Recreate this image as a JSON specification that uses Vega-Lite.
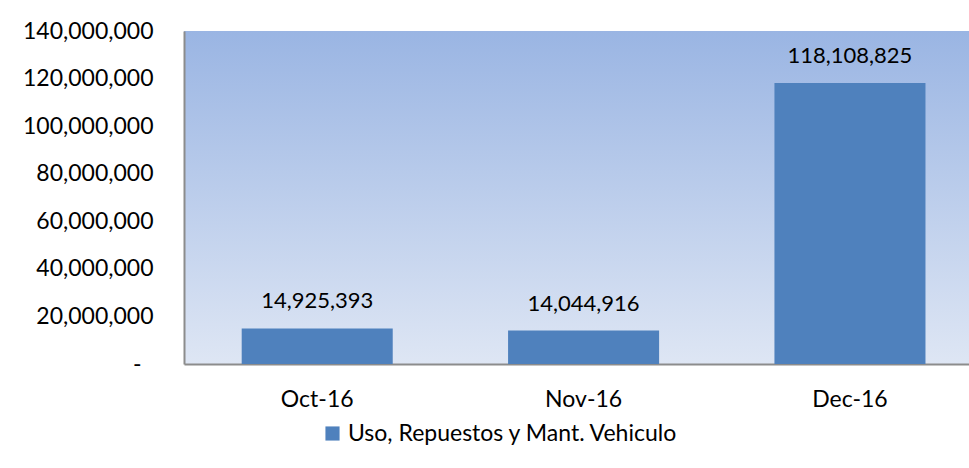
{
  "$schema": "https://vega.github.io/schema/vega-lite/v6.json",
  "width": 785,
  "height": 333,
  "autosize": {"type": "none"},
  "padding": {"left": 184, "top": 31, "right": 0, "bottom": 104},
  "background": "white",
  "config": {
    "font": "Lato",
    "view": {
      "stroke": null,
      "fill": {"gradient": "linear", "x1": 0, "y1": 0, "x2": 0, "y2": 1,
        "stops": [{"offset": 0, "color": "#9ab5e3"}, {"offset": 1, "color": "#dee6f4"}]}
    }
  },
  "data": {
    "values": [
      {"mes": "Oct-16", "valor": 14925393, "serie": "Uso, Repuestos y Mant. Vehiculo"},
      {"mes": "Nov-16", "valor": 14044916, "serie": "Uso, Repuestos y Mant. Vehiculo"},
      {"mes": "Dec-16", "valor": 118108825, "serie": "Uso, Repuestos y Mant. Vehiculo"}
    ]
  },
  "encoding": {
    "x": {
      "field": "mes", "type": "nominal", "sort": null,
      "scale": {"paddingInner": 0.433, "paddingOuter": 0.19, "align": 0.57},
      "axis": {"title": null, "labelAngle": 0, "ticks": false, "domainColor": "#8c8c8c", "domainWidth": 2,
        "labelFontSize": 23, "labelColor": "#000", "labelPadding": 24, "labelFont": "Lato"}
    },
    "y": {
      "field": "valor", "type": "quantitative",
      "scale": {"domain": [0, 140000000], "nice": false},
      "axis": {"title": null, "grid": false, "ticks": false, "values": [0,20000000,40000000,60000000,80000000,100000000,120000000,140000000],
        "domainColor": "#8c8c8c", "domainWidth": 2, "labelFontSize": 23, "labelColor": "#000",
        "labelPadding": {"condition": {"test": "datum.value == 0", "value": 43}, "value": 31},
        "labelFont": "Lato", "labelOverlap": false, "labelFlush": false, "labelBound": false,
        "labelExpr": "datum.value == 0 ? '-' : format(datum.value, ',')"}
    }
  },
  "layer": [
    {
      "mark": {"type": "bar", "color": "#4f81bd"},
      "encoding": {
        "color": {"field": "serie", "type": "nominal", "scale": {"range": ["#4f81bd"]},
          "legend": {"title": null, "orient": "none", "legendX": 137, "legendY": 391, "symbolType": "square",
            "symbolSize": 200, "symbolStrokeWidth": 0, "labelFontSize": 23, "labelColor": "#000", "labelFont": "Lato", "labelLimit": 500}}
      }
    },
    {
      "mark": {"type": "text", "baseline": "middle", "dy": -27, "fontSize": 22, "color": "#000"},
      "encoding": {"text": {"field": "valor", "type": "quantitative", "format": ","}}
    }
  ]
}
